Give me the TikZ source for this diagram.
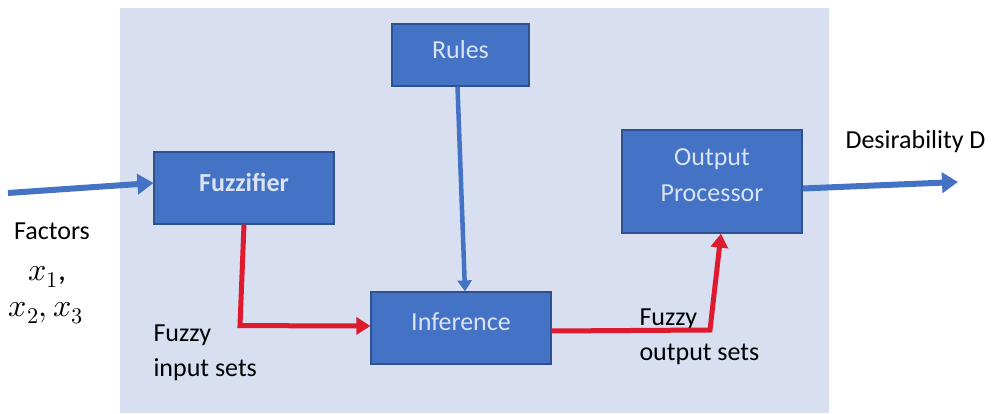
\documentclass[tikz,border=0pt]{standalone}
\usepackage{fontspec}
\usepackage{unicode-math}
\setmainfont{Carlito}
\setmathfont{Latin Modern Math}
\usepackage{xcolor}
\usepackage{tikz}
\usetikzlibrary{arrows.meta,positioning}

\definecolor{boxblue}{HTML}{4472C4}
\definecolor{boxedge}{HTML}{2F528F}
\definecolor{boxtext}{HTML}{DAE3F3}
\definecolor{panel}{HTML}{D7DFF1}
\definecolor{flowred}{HTML}{DE1A2E}

\begin{document}
\begin{tikzpicture}[
  x=1pt,y=1pt,
  bx/.style={draw=boxedge,line width=1.2pt,fill=boxblue,text=boxtext,align=center,
             minimum width=180pt,minimum height=72pt,text depth=12pt,
             font=\fontsize{26}{36}\selectfont},
  lbl/.style={align=left,font=\fontsize{26}{35}\selectfont},
  mth/.style={anchor=base,font=\fontsize{32}{38}\selectfont},
  blu/.style={draw=boxblue,line width=6pt,-{Triangle[length=16pt,width=20pt]}},
  red/.style={draw=flowred,line width=5pt,-{Triangle[length=14pt,width=17pt]}}
]
  \useasboundingbox (0,0) rectangle (1002,413);
  % shaded system panel
  \fill[panel] (120,0) rectangle (829,405);

  \node[bx,font=\fontsize{26}{36}\selectfont\bfseries] (fuzz) at (244,225) {Fuzzifier};
  \node[bx,minimum width=137pt,minimum height=62pt] (rules) at (460.5,358) {Rules};
  \node[bx] (inf)  at (461,85)    {Inference};
  \node[bx,minimum height=103pt] (outp) at (712,231.5) {Output\\Processor};

  % input factors
  \node[lbl,anchor=base] (fac) at (52,173) {Factors};
  \node[mth] (fx1)  at (47,133) {$x_1$,};
  \node[mth] (fx23) at (46,97)  {$x_2, x_3$};

  \node[lbl,anchor=west] (fin)  at (150,60)   {Fuzzy\\input sets};
  \node[lbl,anchor=west] (fout) at (636,76)   {Fuzzy\\output sets};
  \node[lbl,anchor=west] (des)  at (842,271)  {Desirability D};

  \coordinate (src) at (8,220);
  \coordinate (dst) at (958,231);
  \coordinate (bend) at (710,83);

  \draw[blu] (src) -- ([yshift=5]fuzz.west);
  \draw[blu] ([yshift=-7]outp.east) -- (dst);
  \draw[draw=boxblue,line width=4.5pt,-{Triangle[length=11pt,width=14pt]}]
    ([xshift=-3]rules.south) -- ([xshift=4]inf.north);
  \draw[red] (fuzz.south) -- ++(-4,-101) -- ([yshift=2]inf.west);
  \draw[red] ([yshift=-3]inf.east) -- (bend) -- ([xshift=9]outp.south);
\end{tikzpicture}
\end{document}
